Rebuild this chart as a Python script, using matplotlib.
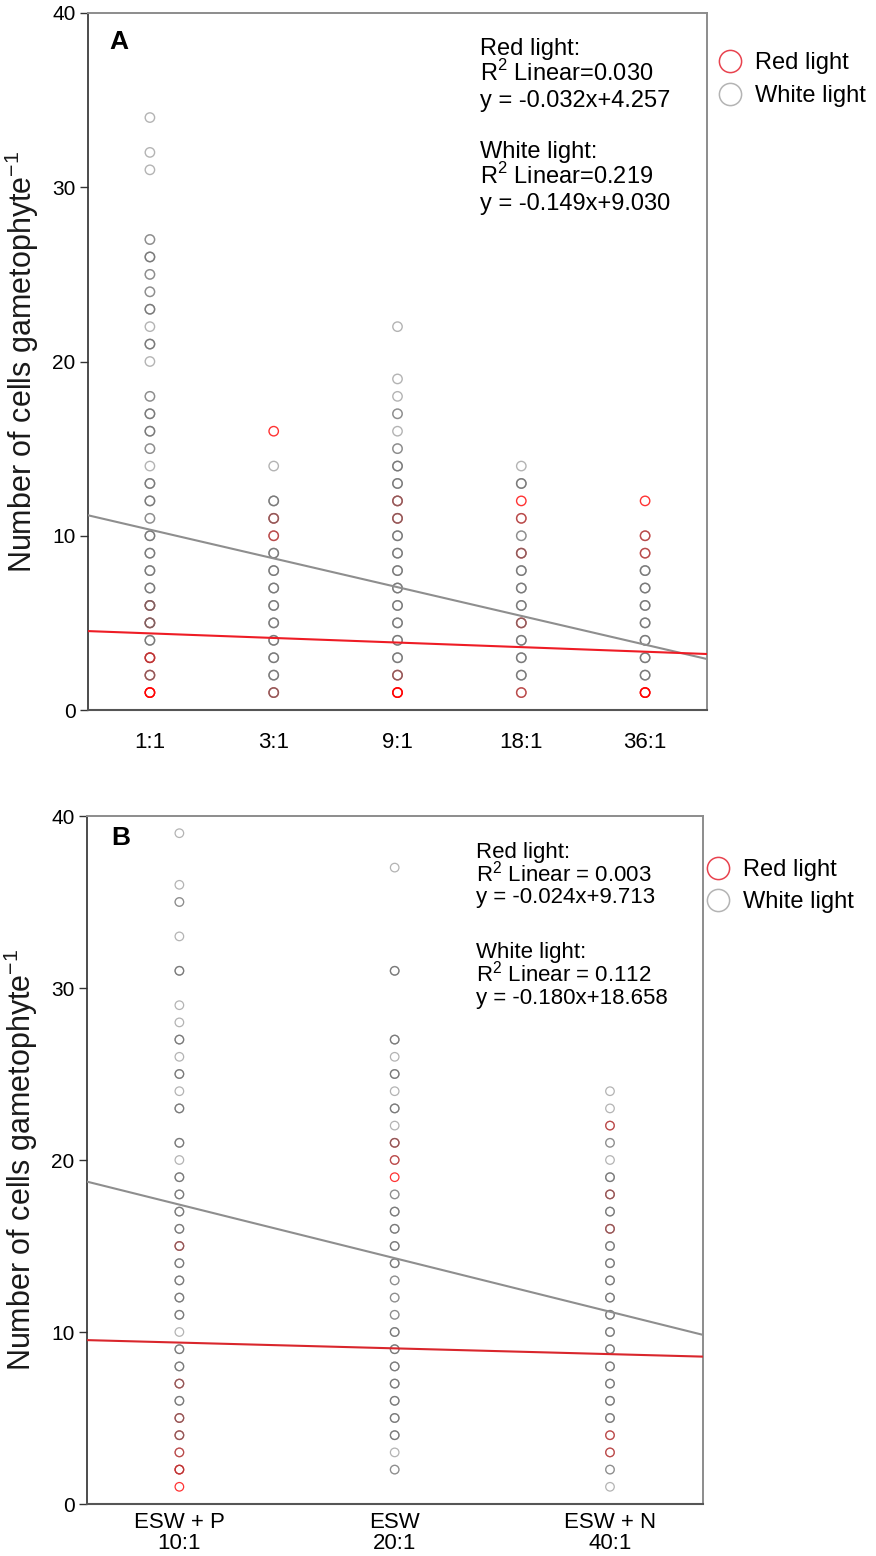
import numpy as np
import matplotlib
matplotlib.use("Agg")
import matplotlib.pyplot as plt
from matplotlib.lines import Line2D

plt.rcParams['font.family'] = ['Liberation Sans', 'DejaVu Sans']
plt.rcParams['mathtext.fontset'] = 'custom'
plt.rcParams['mathtext.rm'] = 'Liberation Sans'

# ---------------- Panel A data ----------------
cats_A = ["1:1", "3:1", "9:1", "18:1", "36:1"]
white_A_vals = [
    [34, 32, 31, 27, 26, 25, 24, 23, 22, 21, 20, 18, 17, 16, 15, 14, 13, 12, 11, 10, 9, 8, 7, 6, 5, 4, 3, 2],
    [14, 12, 11, 10, 9, 8, 7, 6, 5, 4, 3, 2, 1],
    [22, 19, 18, 17, 16, 15, 14, 13, 12, 11, 10, 9, 8, 7, 6, 5, 4, 3, 2],
    [14, 13, 11, 10, 9, 8, 7, 6, 5, 4, 3, 2, 1],
    [10, 9, 8, 7, 6, 5, 4, 3, 2],
]
white_A_n = [
    [1, 1, 1, 2, 3, 2, 2, 3, 1, 3, 1, 2, 3, 3, 2, 1, 3, 3, 2, 3, 3, 3, 3, 3, 3, 3, 1, 2],
    [1, 3, 2, 1, 3, 3, 3, 3, 3, 3, 3, 3, 2],
    [1, 1, 1, 2, 1, 2, 3, 3, 2, 2, 3, 3, 3, 3, 3, 3, 3, 3, 2],
    [1, 3, 1, 2, 2, 3, 3, 3, 2, 3, 3, 3, 1],
    [1, 1, 3, 3, 3, 3, 3, 3, 3],
]
red_A_vals = [
    [6, 5, 3, 2, 1],
    [16, 11, 10, 1],
    [12, 11, 2, 1],
    [12, 11, 9, 5, 1],
    [12, 10, 9, 1],
]
red_A_n = [
    [1, 1, 2, 1, 3],
    [1, 1, 1, 1],
    [1, 1, 1, 3],
    [1, 1, 1, 1, 1],
    [1, 1, 1, 3],
]
# fitted lines as drawn (intercept, slope per category step)
fit_A_white = (12.0, -1.65)
fit_A_red = (4.66, -0.263)
# stats printed on the chart: [red, white]
r2_A = [0.030, 0.219]
slope_A = [-0.032, -0.149]
icpt_A = [4.257, 9.030]

# ---------------- Panel B data ----------------
cats_B = ["ESW + P\n10:1", "ESW\n20:1", "ESW + N\n40:1"]
white_B_vals = [
    [39, 36, 35, 33, 31, 29, 28, 27, 26, 25, 24, 23, 21, 20, 19, 18, 17, 16, 15, 14, 13, 12, 11, 10, 9, 8, 7, 6, 5, 4, 3, 2],
    [37, 31, 27, 26, 25, 24, 23, 22, 21, 20, 18, 17, 16, 15, 14, 13, 12, 11, 10, 9, 8, 7, 6, 5, 4, 3, 2],
    [24, 23, 22, 21, 20, 19, 18, 17, 16, 15, 14, 13, 12, 11, 10, 9, 8, 7, 6, 5, 4, 3, 2, 1],
]
white_B_n = [
    [1, 1, 2, 1, 3, 1, 1, 3, 1, 3, 1, 3, 3, 1, 3, 3, 3, 3, 2, 3, 3, 3, 3, 1, 3, 3, 2, 3, 2, 2, 1, 1],
    [1, 3, 3, 1, 3, 1, 3, 1, 2, 1, 2, 3, 3, 3, 3, 2, 2, 2, 3, 3, 3, 3, 3, 3, 3, 1, 2],
    [1, 1, 1, 2, 1, 3, 2, 3, 2, 3, 3, 3, 3, 3, 3, 3, 3, 3, 3, 3, 1, 1, 2, 1],
]
red_B_vals = [
    [15, 7, 5, 4, 3, 2, 1],
    [21, 20, 19],
    [22, 18, 16, 4, 3],
]
red_B_n = [
    [1, 1, 1, 1, 1, 2, 1],
    [1, 1, 1],
    [1, 1, 1, 1, 1],
]
fit_B_white = (20.52, -3.114)
fit_B_red = (9.72, -0.3355)
r2_B = [0.003, 0.112]
slope_B = [-0.024, -0.180]
icpt_B = [9.713, 18.658]

series_names = ["Red light", "White light"]

# ---------------- styling ----------------
W, H = 876, 1556
GRAY = '#696969'
RED = '#ff0000'
LINE_GRAY = '#8e8e8e'


def rect(l, t, r, b):
    return [l / W, 1 - b / H, (r - l) / W, (b - t) / H]


def px(x, y):
    return x / W, 1 - y / H


fig = plt.figure(figsize=(W / 100, H / 100), dpi=100)
axA = fig.add_axes(rect(88, 13, 707, 710))
axB = fig.add_axes(rect(87, 816, 703, 1504))


def draw_panel(ax, cats, wv, wn, rv, rn, fit_w, fit_r, xlim, msize, mlw, xpad,
               red_line_color):
    xs = np.arange(1, len(cats) + 1)
    for i in range(len(cats)):
        ry = np.repeat(rv[i], rn[i])
        ax.scatter(np.full(len(ry), xs[i]), ry, s=msize, facecolors='none',
                   edgecolors=RED, alpha=0.8, linewidths=mlw, zorder=2)
    for i in range(len(cats)):
        wy = np.repeat(wv[i], wn[i])
        ax.scatter(np.full(len(wy), xs[i]), wy, s=msize, facecolors='none',
                   edgecolors=GRAY, alpha=0.5, linewidths=mlw, zorder=3)
    lx = np.array(xlim)
    ax.plot(lx, fit_w[0] + fit_w[1] * lx, color=LINE_GRAY, lw=1.5, zorder=4)
    ax.plot(lx, fit_r[0] + fit_r[1] * lx, color=red_line_color, lw=1.5, zorder=5)
    ax.set_xlim(xlim)
    ax.set_ylim(0, 40)
    ax.set_yticks([0, 10, 20, 30, 40])
    ax.set_xticks(xs)
    ax.set_xticklabels(cats, linespacing=1.0)
    ax.tick_params(axis='x', length=0, pad=xpad, labelsize=16)
    ax.tick_params(axis='y', length=6, width=1.0, pad=3, labelsize=15,
                   direction='out', color='#333333')
    for sp in ['top', 'right']:
        ax.spines[sp].set_color('#8c8c8c')
        ax.spines[sp].set_linewidth(1.4)
    ax.spines['left'].set_color('#2e2e2e')
    ax.spines['left'].set_linewidth(1.2)
    ax.spines['bottom'].set_color('#555555')
    ax.spines['bottom'].set_linewidth(1.5)
    ax.text(-0.107, 0.5, r'Number of cells gametophyte$^{\mathregular{-1}}$',
            transform=ax.transAxes, rotation=90, ha='center', va='center',
            fontsize=22, color='#1a1a1a')


draw_panel(axA, cats_A, white_A_vals, white_A_n, red_A_vals, red_A_n,
           fit_A_white, fit_A_red, (0.5, 5.5), 46, 1.0, 16, '#ee1c25')
draw_panel(axB, cats_B, white_B_vals, white_B_n, red_B_vals, red_B_n,
           fit_B_white, fit_B_red, (0.571, 3.432), 38, 0.9, 6, '#d9262c')

axA.text(0.034, 0.948, 'A', transform=axA.transAxes, fontsize=19,
         fontweight='bold', va='baseline')
axB.text(0.040, 0.958, 'B', transform=axB.transAxes, fontsize=19,
         fontweight='bold', va='baseline')


def stat_lines(r2, sl, ic, eq):
    out = []
    for k, name in enumerate(series_names):
        out.append(name + ":")
        out.append(r"R$^{\mathregular{2}}$ Linear" + eq + f"{r2[k]:.3f}")
        out.append(f"y = {sl[k]:.3f}x+{ic[k]:.3f}")
    return out


for txt, yb in zip(stat_lines(r2_A, slope_A, icpt_A, "="), [55, 81, 107, 158, 184, 210]):
    fig.text(*px(480, yb), txt, fontsize=17, va='baseline', ha='left')
for txt, yb in zip(stat_lines(r2_B, slope_B, icpt_B, " = "), [858, 881.7, 903, 958, 981.7, 1004]):
    fig.text(*px(476, yb), txt, fontsize=16, va='baseline', ha='left')


def legend_handles():
    return [Line2D([], [], marker='o', ls='none', mfc='none', mec='#e8434f', ms=16, mew=1.1),
            Line2D([], [], marker='o', ls='none', mfc='none', mec='#b4b4b4', ms=16, mew=1.1)]


axA.legend(legend_handles(), series_names, loc='upper left',
           bbox_to_anchor=px(718, 52), bbox_transform=fig.transFigure,
           frameon=False, fontsize=17, handlelength=1.0, handletextpad=0.55,
           labelspacing=0.46, borderpad=0, borderaxespad=0)
axB.legend(legend_handles(), series_names, loc='upper left',
           bbox_to_anchor=px(706, 859), bbox_transform=fig.transFigure,
           frameon=False, fontsize=17, handlelength=1.0, handletextpad=0.55,
           labelspacing=0.42, borderpad=0, borderaxespad=0)

fig.savefig('out.png', dpi=100)
